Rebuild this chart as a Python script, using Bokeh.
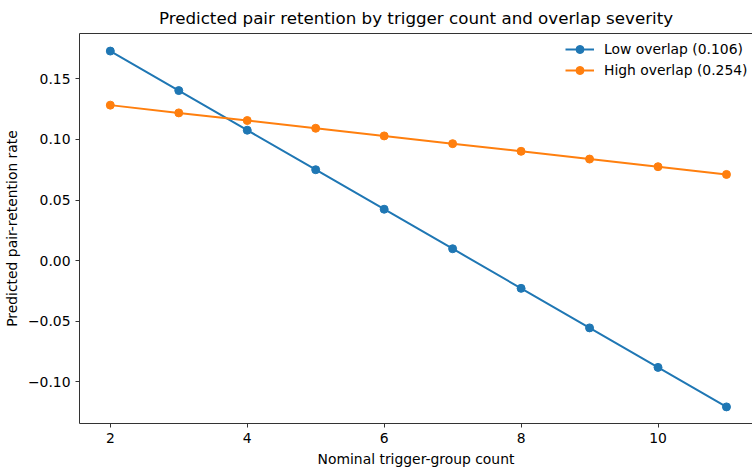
from bokeh.plotting import figure
from bokeh.models import (FixedTicker, CustomJSTickFormatter, LinearAxis, Range1d,
                          Legend, LegendItem)
from bokeh.embed import file_html
from bokeh.resources import INLINE

# Trigger-group counts on the x axis
trigger_counts = [2, 3, 4, 5, 6, 7, 8, 9, 10, 11]

# Predicted pair-retention rate at low overlap (0.106)
low_overlap = [0.1729, 0.1403, 0.1076, 0.0750, 0.0424, 0.0098, -0.0229, -0.0555, -0.0881, -0.1207]
# Predicted pair-retention rate at high overlap (0.254)
high_overlap = [0.1283, 0.1219, 0.1156, 0.1092, 0.1029, 0.0965, 0.0902, 0.0838, 0.0775, 0.0711]

series_labels = ["Low overlap (0.106)", "High overlap (0.254)"]
x_ticks = [2, 4, 6, 8, 10]
y_ticks = [-0.10, -0.05, 0.00, 0.05, 0.10, 0.15]

FONT = "DejaVu Sans"
BLUE = "#1f77b4"
ORANGE = "#ff7f0e"

p = figure(width=752, height=470, output_backend="svg", toolbar_location=None,
           x_range=Range1d(1.55, 11.38), y_range=Range1d(-0.1344, 0.1874),
           min_border_left=79, min_border_right=0, min_border_top=0, min_border_bottom=47,
           title="Predicted pair retention by trigger count and overlap severity")

p.title.text_font = FONT
p.title.text_font_size = "16.7px"
p.title.text_font_style = "normal"
p.title.align = "center"
p.title.text_color = "black"
p.title.standoff = 11

p.outline_line_color = None
p.xgrid.visible = False
p.ygrid.visible = False

xaxis = p.below[0]
yaxis = p.left[0]
for ax in (xaxis, yaxis):
    ax.axis_line_color = "#333333"
    ax.major_tick_line_color = "#333333"
    ax.major_tick_out = 4
    ax.major_tick_in = 0
    ax.minor_tick_line_color = None
    ax.major_label_text_font = FONT
    ax.major_label_text_font_size = "13.9px"
    ax.major_label_text_color = "black"
    ax.axis_label_text_font = FONT
    ax.axis_label_text_font_size = "13.9px"
    ax.axis_label_text_font_style = "normal"
    ax.axis_label_text_color = "black"

xaxis.ticker = FixedTicker(ticks=x_ticks)
xaxis.axis_label = "Nominal trigger-group count"
yaxis.ticker = FixedTicker(ticks=y_ticks)
yaxis.axis_label = "Predicted pair-retention rate"
yaxis.formatter = CustomJSTickFormatter(code="""
    const v = Math.abs(tick) < 1e-9 ? 0 : tick;
    return (v < 0 ? '\u2212' : '') + Math.abs(v).toFixed(2);
""")

# Top spine
top = LinearAxis(ticker=FixedTicker(ticks=[]), major_tick_out=0, major_tick_in=0,
                 minor_tick_out=0, minor_tick_in=0, major_label_text_font_size="0px",
                 major_label_standoff=0, axis_line_color="#333333", axis_line_width=1)
p.add_layout(top, "above")

items = []
for vals, color, label in ((low_overlap, BLUE, series_labels[0]),
                           (high_overlap, ORANGE, series_labels[1])):
    ln = p.line(trigger_counts, vals, line_color=color, line_width=2)
    sc = p.scatter(trigger_counts, vals, size=8, fill_color=color, line_color=color)
    items.append(LegendItem(label=label, renderers=[ln, sc]))

# Legend box placed in screen units from the frame's lower-left corner
legend = Legend(items=items, location=(486, 343))
legend.label_text_font = FONT
legend.label_text_font_size = "13.9px"
legend.label_text_color = "black"
legend.border_line_color = None
legend.background_fill_alpha = 0
legend.glyph_width = 29
legend.label_standoff = 10
legend.spacing = 1
legend.padding = 8
legend.margin = 0
p.add_layout(legend)

open("out.html", "w").write(file_html(p, INLINE))
